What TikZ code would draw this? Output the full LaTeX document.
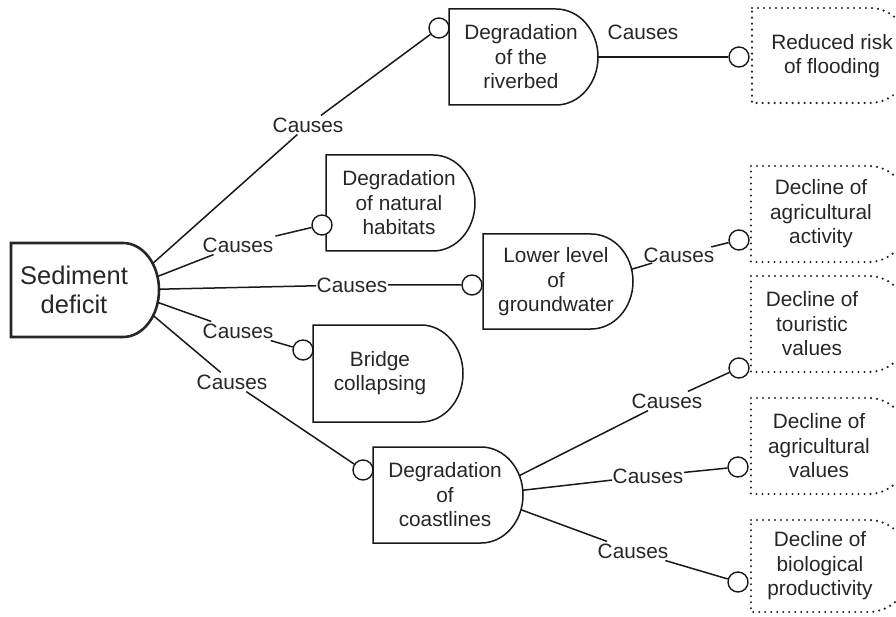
\documentclass[tikz,border=0pt]{standalone}
\usepackage{fontspec}
\setmainfont{Liberation Sans}
\usetikzlibrary{shapes.geometric}
\newcommand{\mynormalfont}{\fontsize{20.8pt}{24.5pt}\selectfont}
\newcommand{\mybigfont}{\fontsize{25.5pt}{29pt}\selectfont}
% #1 name #2 style #3 left #4 top #5 right #6 bottom #7 rx #8 ry
\newcommand{\Dbox}[8]{%
  \draw[#2] (#3,#4) -- ({#5-#7},#4) arc[start angle=90,end angle=-90,x radius=#7pt,y radius=#8pt] -- (#3,#6) -- cycle;
  \node[arcnode, minimum width={2*#7pt}, minimum height={2*#8pt}] (#1-arc) at ({#5-#7},{(#4+#6)/2}) {};
}
\tikzset{
  box/.style={line width=1.5pt, draw=black!90},
  sdbox/.style={line width=2.6pt, draw=black!85},
  dotbox/.style={line width=2.4pt, dash pattern=on 0pt off 6pt, line cap=round, draw=black!85},
  txt/.style={align=center, font=\mynormalfont, inner sep=0pt, text=black!85},
  bigtxt/.style={align=center, font=\mybigfont, inner sep=0pt, text=black!85},
  lbl/.style={font=\mynormalfont, inner sep=2pt, text=black!85},
  port/.style={circle, draw=black!90, fill=white, line width=1.4pt, minimum size=20pt, inner sep=0pt},
  arcnode/.style={ellipse, inner sep=0pt, draw=none},
  conn/.style={line width=1.5pt, draw=black!90},
}
\begin{document}
\begin{tikzpicture}[x=1pt,y=-1pt]
\useasboundingbox (0,0) rectangle (896,617);
\clip (0,0) rectangle (896,617);

% shapes
\Dbox{sd}{sdbox}{11}{243}{159}{337}{36}{47}
\Dbox{rb}{box}{449}{9}{598}{105}{42}{48}
\Dbox{hab}{box}{326}{155}{475}{251}{42}{48}
\Dbox{gw}{box}{483}{234}{633}{329}{42}{47.5}
\Dbox{br}{box}{313}{325}{463}{422}{42}{48.5}
\Dbox{co}{box}{373}{447}{523}{543}{42}{48}
\Dbox{rr}{dotbox}{752}{8}{912}{103}{42}{47.5}
\Dbox{aa}{dotbox}{751}{166}{911}{262}{42}{48}
\Dbox{tv}{dotbox}{751}{276}{911}{372}{42}{48}
\Dbox{av}{dotbox}{751}{398}{911}{494}{42}{48}
\Dbox{bp}{dotbox}{751}{520}{911}{612}{42}{46}

% texts
\node[bigtxt] (sd) at (74,290) {Sediment\\deficit};
\node[txt] (rb) at (521,57) {Degradation\\of the\\riverbed};
\node[txt] (hab) at (399,203) {Degradation\\of natural\\habitats};
\node[txt] (gw) at (556,282) {Lower level\\of\\groundwater};
\node[txt] (br) at (380,373) {Bridge\\collapsing};
\node[txt] (co) at (445,495) {Degradation\\of\\coastlines};
\node[txt] (rr) at (832,56) {Reduced risk\\of flooding};
\node[txt] (aa) at (821,214) {Decline of\\agricultural\\activity};
\node[txt] (tv) at (812,324) {Decline of\\touristic\\values};
\node[txt] (av) at (819,446) {Decline of\\agricultural\\values};
\node[txt] (bp) at (820,566) {Decline of\\biological\\productivity};

% labels
\node[lbl] (l1) at (308,125) {Causes};
\node[lbl] (l2) at (238,245) {Causes};
\node[lbl, inner sep=0.5pt] (l3) at (352,285) {Causes};
\node[lbl] (l4) at (238,331) {Causes};
\node[lbl] (l5) at (232,382) {Causes};
\node[lbl] (l6) at (643,32) {Causes};
\node[lbl, inner sep=0.5pt] (l7) at (679,255) {Causes};
\node[lbl] (l8) at (667,401) {Causes};
\node[lbl, inner sep=0.5pt] (l9) at (648,476) {Causes};
\node[lbl] (l10) at (633,551) {Causes};

% ports
\node[port] (crb) at (439,28) {};
\node[port] (chab) at (322,225) {};
\node[port] (cgw) at (472,285) {};
\node[port] (cbr) at (303,350) {};
\node[port] (cco) at (363,470) {};
\node[port] (crr) at (739,57) {};
\node[port] (caa) at (739,240) {};
\node[port] (ctv) at (739,368) {};
\node[port] (cav) at (738,467) {};
\node[port] (cbp) at (738,582) {};

% connectors
\draw[conn] (sd-arc) -- (l1) -- (crb);
\draw[conn] (sd-arc) -- (l2) -- (chab);
\draw[conn] (sd-arc) -- (l3) -- (cgw);
\draw[conn] (sd-arc) -- (l4) -- (cbr);
\draw[conn] (sd-arc) -- (l5) -- (cco);
\draw[conn] (rb-arc) -- (crr);
\draw[conn] (gw-arc) -- (l7) -- (caa);
\draw[conn] (co-arc) -- (l8) -- (ctv);
\draw[conn] (co-arc) -- (l9) -- (cav);
\draw[conn] (co-arc) -- (l10) -- (cbp);
\end{tikzpicture}
\end{document}
